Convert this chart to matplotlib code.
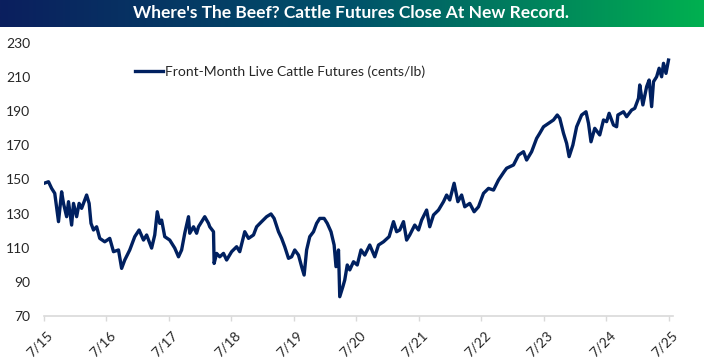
import numpy as np
import matplotlib
matplotlib.use("Agg")
import matplotlib.pyplot as plt
from matplotlib.colors import LinearSegmentedColormap

title = "Where's The Beef? Cattle Futures Close At New Record."
series_name = "Front-Month Live Cattle Futures (cents/lb)"

# decimal-year dates
dates = [
    2015.51, 2015.58, 2015.63, 2015.68, 2015.74, 2015.79, 2015.82, 2015.87, 2015.90, 2015.95,
    2015.98, 2016.03, 2016.07, 2016.11, 2016.19, 2016.23, 2016.26, 2016.30, 2016.35, 2016.40,
    2016.48, 2016.56, 2016.62, 2016.70, 2016.75, 2016.80, 2016.88, 2016.96, 2017.03, 2017.10,
    2017.15, 2017.23, 2017.28, 2017.32, 2017.36, 2017.39, 2017.44, 2017.52, 2017.60, 2017.66,
    2017.71, 2017.76, 2017.82, 2017.84, 2017.90, 2017.95, 2017.98, 2018.03, 2018.08, 2018.14,
    2018.16, 2018.22, 2018.23, 2018.27, 2018.32, 2018.38, 2018.43, 2018.51, 2018.59, 2018.64,
    2018.72, 2018.78, 2018.86, 2018.91, 2018.99, 2019.07, 2019.14, 2019.19, 2019.26, 2019.31,
    2019.36, 2019.42, 2019.47, 2019.52, 2019.58, 2019.63, 2019.67, 2019.71, 2019.76, 2019.82,
    2019.87, 2019.92, 2019.99, 2020.04, 2020.10, 2020.15, 2020.18, 2020.22, 2020.24, 2020.29,
    2020.32, 2020.36, 2020.40, 2020.46, 2020.52, 2020.58, 2020.64, 2020.72, 2020.80, 2020.86,
    2020.94, 2021.03, 2021.10, 2021.15, 2021.20, 2021.26, 2021.31, 2021.36, 2021.44, 2021.50,
    2021.55, 2021.63, 2021.68, 2021.74, 2021.82, 2021.90, 2021.95, 2022.00, 2022.07, 2022.13,
    2022.19, 2022.24, 2022.32, 2022.39, 2022.46, 2022.54, 2022.62, 2022.70, 2022.78, 2022.87,
    2022.91, 2023.02, 2023.10, 2023.18, 2023.23, 2023.31, 2023.39, 2023.44, 2023.50, 2023.58,
    2023.66, 2023.72, 2023.76, 2023.82, 2023.87, 2023.91, 2023.97, 2024.03, 2024.11, 2024.18,
    2024.22, 2024.26, 2024.32, 2024.40, 2024.46, 2024.51, 2024.55, 2024.62, 2024.67, 2024.69,
    2024.78, 2024.83, 2024.91, 2024.96, 2025.02, 2025.04, 2025.09, 2025.15, 2025.19, 2025.23,
    2025.26, 2025.31, 2025.35, 2025.39, 2025.42, 2025.46, 2025.50,
]
prices = [
    147.8, 148.7, 144.8, 141.9, 125.3, 142.8, 136.0, 128.2, 137.0, 123.3,
    136.0, 128.2, 136.0, 133.1, 140.9, 136.0, 124.3, 120.4, 122.3, 115.5,
    113.5, 115.5, 107.7, 108.7, 97.9, 102.8, 108.7, 116.5, 120.4, 114.5,
    117.5, 109.8, 117.5, 131.1, 124.3, 126.2, 116.5, 114.5, 109.8, 104.7,
    108.7, 118.5, 128.2, 118.5, 122.3, 118.5, 122.3, 125.3, 128.2, 124.3,
    122.3, 119.4, 100.8, 106.7, 104.7, 106.7, 102.8, 107.7, 110.6, 107.7,
    119.4, 115.5, 117.5, 122.3, 125.3, 128.2, 129.8, 127.2, 119.4, 115.5,
    110.6, 103.8, 104.7, 108.7, 105.7, 98.9, 94.0, 108.7, 116.5, 119.4,
    124.3, 127.2, 127.2, 124.3, 119.4, 111.6, 98.9, 108.7, 81.3, 87.2,
    91.1, 99.9, 97.0, 101.8, 99.9, 108.7, 105.7, 111.6, 104.7, 111.6,
    113.5, 116.5, 125.3, 119.4, 120.4, 125.3, 114.5, 117.5, 123.3, 120.4,
    126.2, 132.1, 122.3, 129.2, 132.1, 137.0, 140.9, 138.0, 147.8, 137.0,
    140.9, 134.0, 136.0, 131.1, 134.0, 141.9, 144.8, 143.8, 149.7, 154.6,
    156.6, 158.5, 164.3, 166.3, 161.4, 166.3, 174.1, 177.1, 180.9, 182.9,
    184.9, 187.8, 185.9, 177.1, 171.2, 163.4, 170.2, 180.9, 187.8, 189.7,
    182.9, 172.1, 180.0, 176.1, 184.9, 183.9, 188.8, 181.9, 180.9, 187.8,
    189.7, 186.8, 190.7, 191.7, 197.6, 205.4, 193.7, 204.4, 208.3, 192.7,
    207.3, 210.2, 215.2, 210.2, 218.1, 212.2, 220.0,
]
xtick_pos = [2015.5 + i for i in range(11)]
xtick_labels = ["7/15", "7/16", "7/17", "7/18", "7/19", "7/20", "7/21", "7/22", "7/23", "7/24", "7/25"]
ytick_vals = [70, 90, 110, 130, 150, 170, 190, 210, 230]

plt.rcParams['font.family'] = ['Lato', 'DejaVu Sans']

W, H = 704, 358
fig = plt.figure(figsize=(W / 100, H / 100), dpi=100)

# title banner
bax = fig.add_axes([0, 1 - 27 / H, 1, 27 / H])
cmap = LinearSegmentedColormap.from_list("banner", ["#0b1f5e", "#00526a", "#00b050"])
bax.imshow(np.linspace(0, 1, 256)[None, :], aspect="auto", cmap=cmap, extent=[0, 1, 0, 1])
bax.set_axis_off()
bax.text(0.499, 0.5, title, color="white", fontsize=12.5, fontweight="bold",
         ha="center", va="center", transform=bax.transAxes)

ax = fig.add_axes([43.5 / W, 1 - 316 / H, (673 - 43.5) / W, (316 - 43) / H])
ax.plot(dates, prices, color="#002060", lw=2.4, solid_joinstyle="round", label=series_name)
ax.set_xlim(2015.5, 2015.5 + (673 - 43.5) / 62.5)
ax.set_ylim(70, 230)
ax.set_yticks(ytick_vals)
ax.set_xticks(xtick_pos)
ax.set_xticklabels(xtick_labels, rotation=45, ha="right", va="top", rotation_mode="anchor")
for lbl in ax.get_xticklabels():
    lbl.set_x(lbl.get_position()[0])
for s in ["top", "right", "left"]:
    ax.spines[s].set_visible(False)
ax.spines["bottom"].set_color("#d9d9d9")
ax.spines["bottom"].set_linewidth(1.2)
ax.tick_params(axis="y", length=0, pad=9.5, labelsize=10, labelcolor="#262626")
ax.tick_params(axis="x", length=3.6, width=1, color="#d9d9d9", pad=6, labelsize=10, labelcolor="#262626")

# shift x labels slightly right, as in the reference
import matplotlib.transforms as mtransforms
offset = mtransforms.ScaledTranslation(3 / 100, 0, fig.dpi_scale_trans)
for lbl in ax.get_xticklabels():
    lbl.set_transform(lbl.get_transform() + offset)

leg = ax.legend(loc="center left", bbox_to_anchor=(0.145, 0.894), frameon=False, fontsize=10,
                handlelength=2.0, handletextpad=0.2, borderpad=0, borderaxespad=0)
for t in leg.get_texts():
    t.set_color("#262626")

fig.savefig("out.png", dpi=100)
